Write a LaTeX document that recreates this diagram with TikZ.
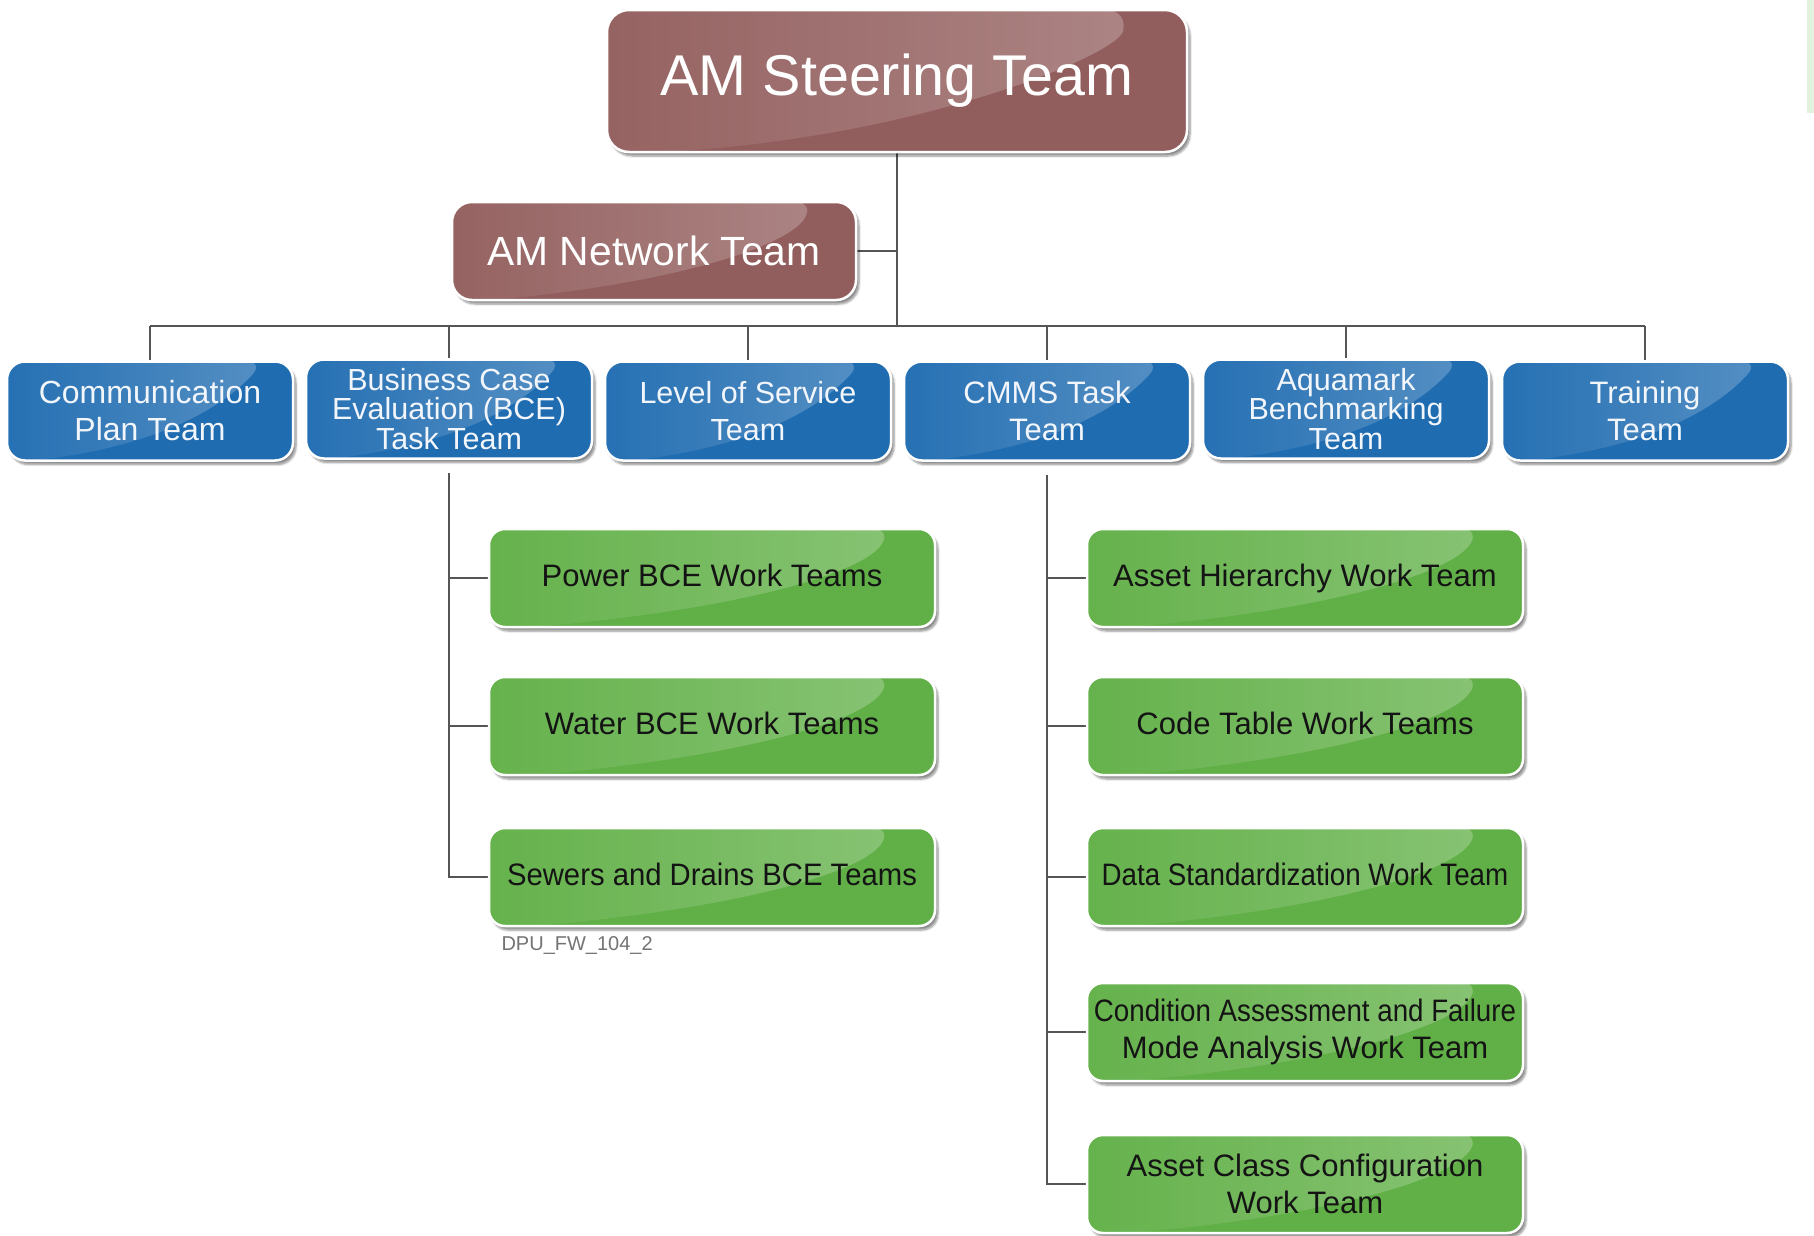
\documentclass[tikz,border=0pt]{standalone}
\usepackage{fontspec}
\setmainfont{Liberation Sans}
\usetikzlibrary{shadows,shadows.blur,fadings,calc,backgrounds}

\definecolor{tmaroon}{HTML}{925E5D}
\definecolor{tblue}{HTML}{1F6CB1}
\definecolor{tgreen}{HTML}{61B047}
\definecolor{linkgray}{HTML}{555555}
\definecolor{bluetext}{HTML}{F2F6FB}
\definecolor{stripgreen}{HTML}{E3F1DF}

\tikzfading[name=glossfade, left color=transparent!92, right color=transparent!40]

% glossy highlight in the upper part of every box
\newcommand\glossdraw{%
  \path (path picture bounding box.south west) coordinate (gsw)
        (path picture bounding box.north east) coordinate (gne);
  \fill[white, path fading=glossfade, fill opacity=0.4]
    ($(gsw)!0.1!(gsw -| gne)$)
      .. controls ($(gsw)!0.55!(gsw -| gne)+(0,18)$) and ($(gne)+(-70,-45)$)
      .. ($(gne -| gsw)!0.9!(gne)$)
      -- (gne -| gsw) -- (gsw) -- cycle;
}

\tikzset{
  x=1pt, y=1pt,
  box/.style={rectangle, rounded corners=18pt, draw=white, line width=2.5pt,
    align=center, inner sep=0pt,
    blur shadow={shadow xshift=3pt, shadow yshift=-4pt, shadow blur steps=6, shadow opacity=45},
    path picture={\glossdraw}},
  redbox/.style={box, fill=tmaroon, text=white},
  bluebox/.style={box, fill=tblue, text=bluetext, minimum width=286, minimum height=99,
    font=\fontsize{31}{37}\selectfont},
  bluebox3/.style={bluebox, font=\fontsize{30.5}{29.5}\selectfont},
  greenbox/.style={box, fill=tgreen, text=black!92, minimum height=98, rounded corners=16pt,
    font=\fontsize{31}{37}\selectfont},
  oneline/.style={text height=24pt, text depth=8pt},
  leftgreen/.style={greenbox, minimum width=446},
  rightgreen/.style={greenbox, minimum width=436},
  link/.style={draw=linkgray, line width=2pt},
}

\begin{document}
\begin{tikzpicture}
\useasboundingbox (0,0) rectangle (1814,-1235);
\fill[stripgreen] (1807,0) rectangle (1814,-113);

% top level
\node[redbox, minimum width=580, minimum height=142, rounded corners=22pt,
      font=\fontsize{57.5}{60}\selectfont] (steer) at (897,-81) {AM Steering Team};
\node[redbox, minimum width=404, minimum height=98, rounded corners=20pt,
      font=\fontsize{40.8}{44}\selectfont] (net) at (654,-251) {AM Network Team};

% task teams
\node[bluebox, font=\fontsize{32}{37}\selectfont] (comm) at (150,-411) {Communication\\Plan Team};
\node[bluebox3] (bce)   at (449,-409)  {Business Case\\Evaluation (BCE)\\Task Team};
\node[bluebox, font=\fontsize{30.5}{37}\selectfont] (los) at (748,-411) {Level of Service\\Team};
\node[bluebox]  (cmms)  at (1047,-411) {CMMS Task\\Team};
\node[bluebox3] (aqua)  at (1346,-409) {Aquamark\\Benchmarking\\Team};
\node[bluebox]  (train) at (1645,-411) {Training\\Team};

% BCE work teams
\node[leftgreen, oneline] (power) at (712,-578) {Power BCE Work Teams};
\node[leftgreen, oneline] (water) at (712,-726) {Water BCE Work Teams};
\node[leftgreen, oneline] (sewer) at (712,-877) {\scalebox{0.944}[1]{Sewers and Drains BCE Teams}};
\node[anchor=west, text=black!55, font=\fontsize{20}{24}\selectfont] (code) at (498,-945) {DPU\_FW\_104\_2};

% CMMS work teams
\node[rightgreen, oneline] (hier)  at (1305,-578) {Asset Hierarchy Work Team};
\node[rightgreen, oneline] (codet) at (1305,-726) {Code Table Work Teams};
\node[rightgreen, oneline] (dstd)  at (1305,-877) {\scalebox{0.895}[1]{Data Standardization Work Team}};
\node[rightgreen] (cond) at (1305,-1032) {\scalebox{0.894}[1]{Condition Assessment and Failure}\\Mode Analysis Work Team};
\node[rightgreen] (aclass) at (1305,-1184) {Asset Class Configuration\\Work Team};

% connectors
\begin{scope}[on background layer]
  \coordinate (bus) at (steer.south |- 0,-326);
  \draw[link] (steer.south) -- (bus);
  \draw[link] (net.east) -- (net.east -| bus);
  \draw[link] (comm.north |- bus) -- (train.north |- bus);
  \foreach \n in {comm,bce,los,cmms,aqua,train}
    \draw[link] (\n.north |- bus) -- (\n.north);
  \draw[link] ([yshift=-13pt]bce.south) |- (sewer.west);
  \draw[link] (bce.south |- power.west) -- (power.west);
  \draw[link] (bce.south |- water.west) -- (water.west);
  \draw[link] ([yshift=-13pt]cmms.south) |- (aclass.west);
  \foreach \n in {hier,codet,dstd,cond}
    \draw[link] (cmms.south |- \n.west) -- (\n.west);
\end{scope}
\end{tikzpicture}
\end{document}
